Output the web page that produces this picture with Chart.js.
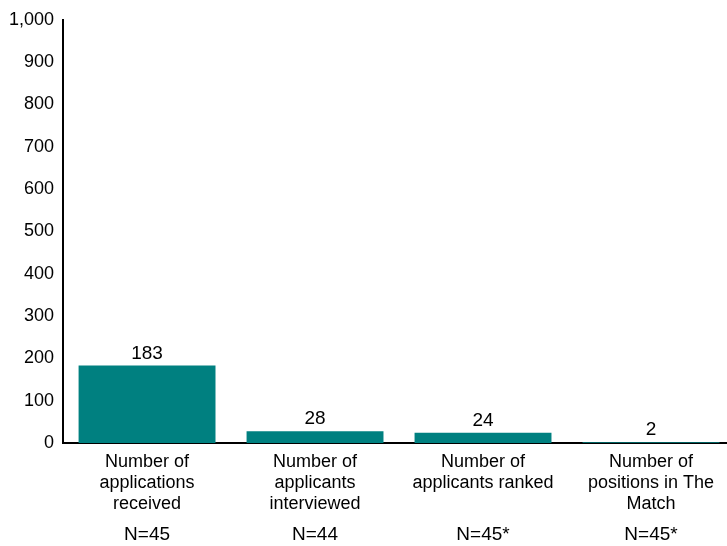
<!DOCTYPE html>
<html>
<head>
<meta charset="utf-8">
<script src="https://cdn.jsdelivr.net/npm/chart.js@4/dist/chart.umd.min.js"></script>
<style>
  html, body { margin: 0; padding: 0; background: #fff; overflow: hidden; }
  #wrap { width: 727px; height: 546px; overflow: hidden; }
</style>
</head>
<body>
<div id="wrap"><canvas id="chart1" width="735" height="546"></canvas></div>
<script>
const categories = [
  ['Number of', 'applications', 'received'],
  ['Number of', 'applicants', 'interviewed'],
  ['Number of', 'applicants ranked'],
  ['Number of', 'positions in The', 'Match']
]
const sampleSizes = ['N=45', 'N=44', 'N=45*', 'N=45*']
const medians = [183, 28, 24, 2]

const FONT = "'Liberation Sans', Arial, sans-serif"

// value printed above each bar
const barValues = {
  id: 'barValues',
  afterDatasetsDraw(chart) {
    const ctx = chart.ctx
    const meta = chart.getDatasetMeta(0)
    ctx.save()
    ctx.font = '19px ' + FONT
    ctx.fillStyle = '#000'
    ctx.textAlign = 'center'
    ctx.textBaseline = 'alphabetic'
    meta.data.forEach((bar, i) => {
      ctx.fillText(String(medians[i]), bar.x, bar.y - 7)
    })
    ctx.restore()
  }
}

let chart = new Chart('chart1', {
  type: 'bar',
  data: {
    labels: categories,
    datasets: [{
      data: medians,
      backgroundColor: '#008080',
      borderWidth: 0,
      categoryPercentage: 1,
      barPercentage: 0.815
    }]
  },
  options: {
    responsive: false,
    animation: false,
    layout: { padding: { top: 19, right: 0, bottom: 1, left: 0 } },
    plugins: {
      legend: { display: false },
      tooltip: { enabled: false }
    },
    scales: {
      y: {
        min: 0,
        max: 1000,
        grid: { display: false, drawTicks: false },
        border: { display: true, color: '#000', width: 2 },
        ticks: {
          stepSize: 100,
          padding: 9,
          color: '#000',
          font: { family: FONT, size: 18 }
        }
      },
      x: {
        offset: true,
        grid: { display: false, drawTicks: false },
        border: { display: true, color: '#000', width: 2 },
        afterFit(scale) { scale.height = 74 },
        ticks: {
          padding: 9,
          color: '#000',
          maxRotation: 0,
          autoSkip: false,
          font: { family: FONT, size: 18, lineHeight: 1.15 }
        }
      },
      n: {
        type: 'category',
        position: 'bottom',
        labels: sampleSizes,
        offset: true,
        grid: { display: false, drawTicks: false },
        border: { display: false },
        afterFit(scale) { scale.height = 28 },
        ticks: {
          padding: 6,
          color: '#000',
          maxRotation: 0,
          autoSkip: false,
          font: { family: FONT, size: 19, lineHeight: 1.2 }
        }
      }
    }
  },
  plugins: [barValues]
})
</script>
</body>
</html>
